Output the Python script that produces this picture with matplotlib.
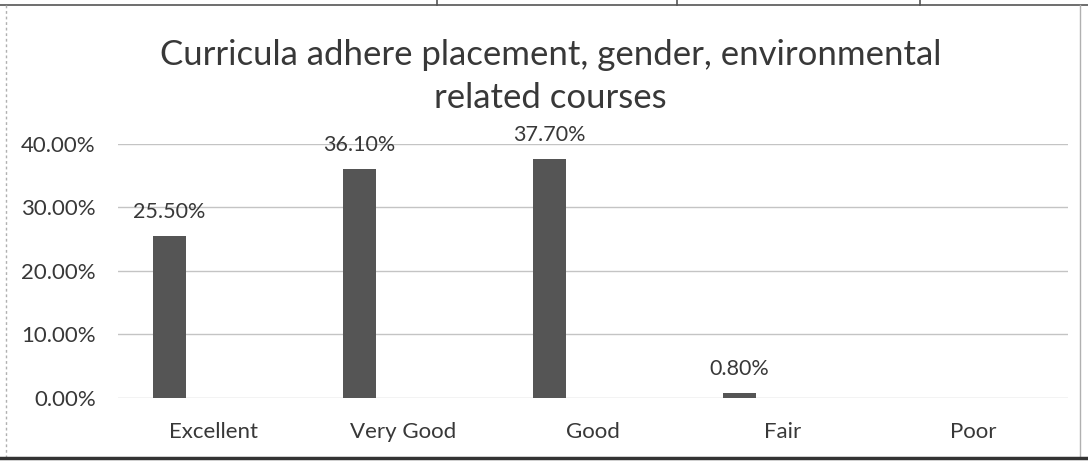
import matplotlib.pyplot as plt
from matplotlib.lines import Line2D
from matplotlib.ticker import PercentFormatter

plt.rcParams['font.family'] = ['Lato', 'DejaVu Sans']

# Data for the chart
categories = ['Excellent', 'Very Good', 'Good', 'Fair', 'Poor']
shares = [25.5, 36.1, 37.7, 0.8, None]
value_labels = ['25.50%', '36.10%', '37.70%', '0.80%', '']

text_col = '#383838'
bar_col = '#555555'

fig = plt.figure(figsize=(10.88, 4.63), dpi=100)
ax = fig.add_axes([0.1085, 0.1404, 0.873, 0.5486])

xs = list(range(len(categories)))
bar_x = [x - 0.229 for x in xs]
for x, v, lab in zip(bar_x, shares, value_labels):
    if v is None:
        continue
    ax.bar(x, v / 100, width=0.175, color=bar_col, zorder=3)
    ax.annotate(lab, (x, v / 100), xytext=(0, 10), textcoords='offset points',
                ha='center', va='bottom', fontsize=15.5, color=text_col)

ax.set_xlim(-0.5, len(categories) - 0.5)
ax.set_ylim(0, 0.40)
ax.set_yticks([0, 0.1, 0.2, 0.3, 0.4])
ax.yaxis.set_major_formatter(PercentFormatter(1.0, decimals=2))
ax.set_xticks(xs)
ax.set_xticklabels(categories)
ax.tick_params(axis='both', length=0, labelsize=16, labelcolor=text_col)
ax.tick_params(axis='y', pad=16)
ax.tick_params(axis='x', pad=17)
ax.grid(axis='y', color='#c4c4c4', linewidth=1, zorder=0)
for s in ax.spines.values():
    s.set_visible(False)

fig.text(0.506, 0.881, 'Curricula adhere placement, gender, environmental',
         ha='center', va='center', fontsize=25, color=text_col)
fig.text(0.506, 0.788, 'related courses',
         ha='center', va='center', fontsize=25, color=text_col)

# frame of the scanned chart
W, H = 1088, 463
def px_line(x0, y0, x1, y1, **kw):
    fig.add_artist(Line2D([x0 / W, x1 / W], [1 - y0 / H, 1 - y1 / H],
                          transform=fig.transFigure, **kw))

px_line(0, 5, W, 5, color='#555555', linewidth=1.2)
for vx in [437, 677, 920]:
    px_line(vx, 0, vx, 5, color='#555555', linewidth=1.2)
px_line(6, 5, 6, 458, color='#b0b0b0', linewidth=1, linestyle=(0, (2, 2)))
px_line(1080, 5, 1080, 458, color='#b0b0b0', linewidth=1)
px_line(0, 458, W, 458, color='#333333', linewidth=2.5)

fig.savefig('out.png', dpi=100)
